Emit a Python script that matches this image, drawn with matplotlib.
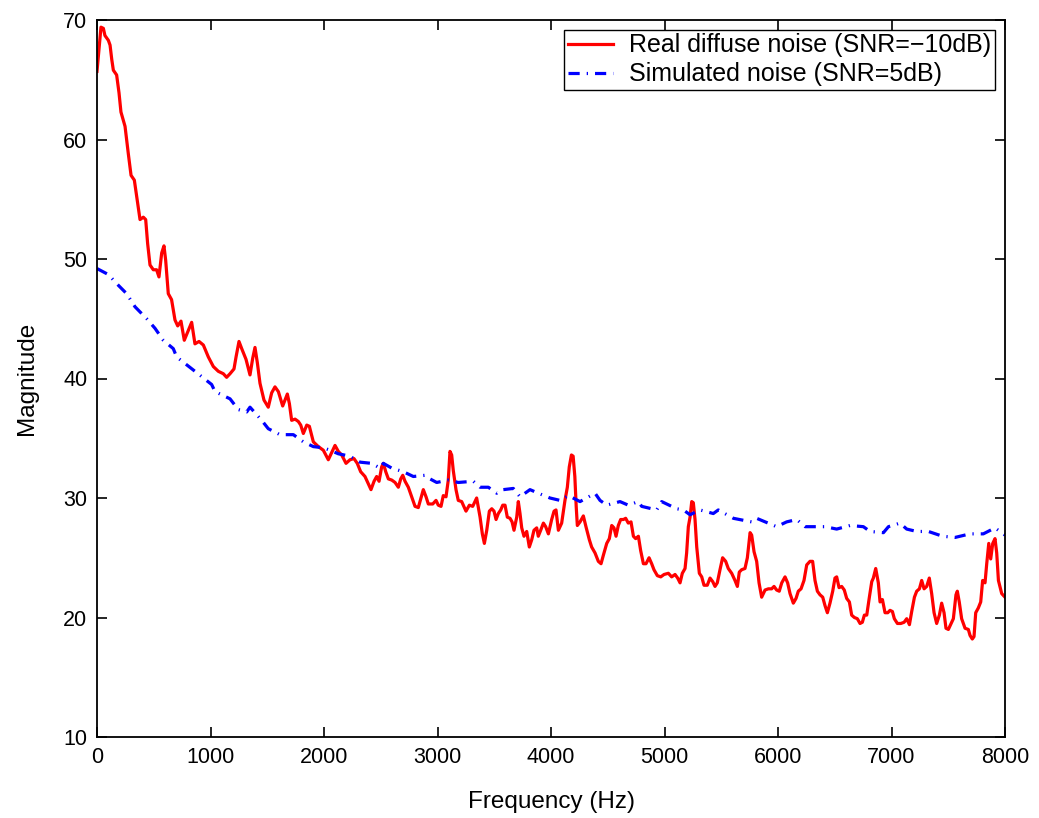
import numpy as np
import matplotlib
matplotlib.use("Agg")
import matplotlib.pyplot as plt

plt.rcParams['font.family'] = ['Liberation Sans', 'DejaVu Sans']

# real diffuse noise spectrum (Hz, dB)
real_freq = [0, 35, 56, 70, 100, 115, 130, 144, 173, 194, 211, 247, 276, 300, 329, 350,
             379, 408, 429, 446, 467, 496, 525, 546, 570, 590, 605, 628, 657, 687, 711,
             740, 769, 799, 834, 863, 899, 937, 981, 1025, 1069, 1113, 1142, 1172, 1207,
             1225, 1251, 1275, 1313, 1348, 1372, 1392, 1413, 1436, 1471, 1509, 1539, 1568,
             1598, 1636, 1677, 1695, 1715, 1745, 1774, 1795, 1818, 1848, 1871, 1906, 1950,
             1994, 2038, 2077, 2097, 2126, 2156, 2194, 2229, 2264, 2293, 2323, 2361, 2390,
             2414, 2441, 2464, 2485, 2508, 2523, 2544, 2567, 2597, 2626, 2655, 2676, 2694,
             2714, 2743, 2773, 2802, 2831, 2852, 2875, 2899, 2919, 2958, 2987, 3007, 3031,
             3051, 3075, 3095, 3110, 3125, 3139, 3163, 3183, 3213, 3251, 3281, 3310, 3345,
             3375, 3395, 3413, 3434, 3457, 3478, 3498, 3516, 3536, 3557, 3575, 3595, 3615,
             3639, 3657, 3674, 3698, 3712, 3727, 3742, 3762, 3786, 3809, 3830, 3850, 3874,
             3888, 3909, 3933, 3953, 3977, 4006, 4027, 4044, 4065, 4094, 4123, 4144, 4161,
             4180, 4195, 4210, 4222, 4232, 4256, 4285, 4308, 4338, 4358, 4388, 4417, 4441,
             4461, 4491, 4514, 4535, 4555, 4573, 4593, 4614, 4638, 4658, 4681, 4705, 4726,
             4746, 4770, 4790, 4814, 4837, 4864, 4887, 4907, 4937, 4967, 4996, 5034, 5063,
             5093, 5116, 5137, 5157, 5181, 5195, 5210, 5225, 5240, 5254, 5269, 5284, 5307,
             5328, 5348, 5377, 5401, 5425, 5445, 5465, 5489, 5512, 5539, 5562, 5592, 5621,
             5642, 5659, 5680, 5709, 5730, 5754, 5768, 5789, 5812, 5833, 5856, 5886, 5915,
             5944, 5965, 5988, 6011, 6033, 6062, 6085, 6106, 6135, 6159, 6179, 6203, 6229,
             6253, 6282, 6305, 6326, 6347, 6370, 6394, 6414, 6435, 6458, 6482, 6502, 6517,
             6538, 6561, 6584, 6605, 6629, 6649, 6673, 6699, 6723, 6743, 6761, 6782, 6805,
             6826, 6840, 6861, 6884, 6899, 6920, 6943, 6967, 6987, 7008, 7025, 7052, 7082,
             7111, 7134, 7158, 7178, 7202, 7222, 7246, 7266, 7287, 7310, 7333, 7354, 7375,
             7398, 7422, 7442, 7463, 7480, 7501, 7521, 7545, 7568, 7580, 7597, 7618, 7648,
             7677, 7692, 7712, 7727, 7742, 7765, 7786, 7803, 7824, 7839, 7857, 7874, 7892,
             7912, 7927, 7942, 7971, 8000]
real_mag = [65.7, 69.4, 69.3, 68.7, 68.3, 67.9, 66.7, 65.8, 65.4, 63.9, 62.3, 61.1, 58.8, 57.0, 56.6, 55.2,
            53.3, 53.5, 53.3, 51.3, 49.5, 49.1, 49.1, 48.5, 50.5, 51.1, 49.9, 47.1, 46.6, 44.9, 44.4,
            44.8, 43.2, 43.9, 44.7, 42.9, 43.1, 42.8, 41.8, 41.0, 40.6, 40.4, 40.1, 40.4, 40.8,
            41.8, 43.1, 42.5, 41.6, 40.3, 41.7, 42.6, 41.3, 39.6, 38.2, 37.6, 38.8, 39.3,
            38.9, 37.7, 38.7, 37.9, 36.5, 36.6, 36.4, 36.1, 35.4, 36.1, 36.0, 34.7, 34.3,
            34.0, 33.2, 34.0, 34.4, 33.9, 33.6, 32.9, 33.2, 33.3, 32.9, 32.2, 31.8, 31.2,
            30.7, 31.4, 31.8, 31.4, 32.6, 32.9, 32.2, 31.6, 31.5, 31.3, 30.9, 31.6, 31.9,
            31.4, 30.9, 30.1, 29.3, 29.2, 29.9, 30.7, 30.1, 29.5, 29.5, 29.8, 29.4, 29.3,
            30.2, 30.1, 31.5, 33.9, 33.6, 32.3, 30.7, 29.8, 29.7, 28.9, 29.4, 29.3, 30.0,
            28.4, 27.0, 26.2, 27.3, 28.9, 29.1, 28.9, 28.2, 28.7, 29.0, 29.4, 29.4, 28.4,
            28.3, 28.0, 27.3, 28.4, 29.7, 28.7, 27.5, 26.8, 27.2, 25.9, 26.5, 27.3, 27.5,
            26.8, 27.3, 27.9, 27.6, 27.0, 28.2, 28.9, 29.0, 27.3, 27.9, 29.8, 30.9, 32.6,
            33.6, 33.5, 31.8, 29.3, 27.7, 28.0, 28.5, 27.6, 26.5, 25.9, 25.4, 24.7, 24.5,
            25.2, 26.2, 26.6, 27.7, 27.5, 26.8, 27.7, 28.2, 28.2, 28.3, 27.9, 28.0, 26.8,
            26.6, 26.8, 25.6, 24.5, 24.5, 25.0, 24.5, 24.0, 23.5, 23.4, 23.6, 23.7, 23.4,
            23.6, 23.3, 22.9, 23.7, 24.1, 25.4, 27.6, 28.4, 29.7, 29.6, 28.2, 25.9, 23.7,
            23.4, 22.7, 22.7, 23.3, 23.0, 22.6, 22.9, 24.0, 25.0, 24.7, 24.1, 23.7, 23.1,
            22.6, 23.8, 24.0, 24.1, 25.0, 27.1, 26.9, 25.5, 24.7, 22.9, 21.7, 22.3, 22.4,
            22.4, 22.6, 22.3, 22.2, 22.9, 23.4, 22.9, 22.0, 21.2, 21.6, 22.2, 22.4, 23.1,
            24.4, 24.7, 24.7, 23.1, 22.2, 21.9, 21.7, 21.0, 20.4, 21.2, 22.2, 23.3, 23.4,
            22.5, 22.6, 22.3, 21.6, 21.3, 20.2, 20.0, 19.9, 19.5, 19.6, 20.2, 20.2, 21.7,
            23.0, 23.3, 24.1, 22.9, 21.3, 21.5, 20.4, 20.4, 20.6, 20.5, 19.9, 19.5, 19.5,
            19.6, 19.9, 19.4, 20.5, 21.7, 22.2, 22.4, 23.1, 22.4, 22.6, 23.3, 22.0, 20.4,
            19.5, 20.2, 21.2, 20.4, 19.1, 19.0, 19.4, 19.9, 21.9, 22.2, 21.3, 19.9, 19.1,
            19.0, 18.5, 18.2, 18.4, 20.4, 20.8, 21.3, 23.1, 22.9, 24.5, 26.2, 24.9, 26.2,
            26.6, 25.4, 23.1, 22.0, 21.7]

# simulated noise spectrum (Hz, dB)
sim_freq = [0, 100, 188, 261, 335, 438, 511, 584, 672, 702, 850, 1010, 1040, 1172, 1245,
            1319, 1348, 1451, 1509, 1612, 1730, 1818, 1906, 1994, 2053, 2126, 2229, 2317,
            2420, 2494, 2523, 2597, 2699, 2787, 2890, 2934, 2993, 3095, 3183, 3316, 3375,
            3448, 3522, 3580, 3668, 3727, 3815, 3888, 3991, 4079, 4153, 4256, 4388, 4432,
            4491, 4608, 4681, 4770, 4799, 4931, 4975, 5107, 5166, 5225, 5313, 5430, 5474,
            5607, 5768, 5812, 5988, 6076, 6165, 6238, 6414, 6517, 6635, 6752, 6811, 6929,
            6973, 7075, 7134, 7222, 7325, 7450, 7560, 7692, 7809, 7912, 7956, 8000]
sim_mag = [49.2, 48.7, 47.8, 47.1, 46.0, 45.0, 44.2, 43.2, 42.5, 41.8, 40.7, 39.5, 38.9, 38.3, 37.4,
           37.2, 37.6, 36.5, 35.8, 35.3, 35.3, 34.7, 34.3, 34.2, 34.0, 33.7, 33.5, 33.0,
           32.9, 32.5, 32.9, 32.5, 32.2, 31.8, 31.9, 31.6, 31.3, 31.5, 31.3, 31.4, 30.9,
           30.9, 30.4, 30.7, 30.8, 30.1, 30.7, 30.4, 30.0, 29.8, 30.2, 29.7, 30.4, 29.8,
           29.4, 29.7, 29.4, 29.7, 29.3, 29.0, 29.7, 29.1, 29.0, 28.6, 29.0, 28.7, 29.0,
           28.3, 28.0, 28.3, 27.6, 28.0, 28.2, 27.6, 27.6, 27.4, 27.7, 27.6, 27.2, 27.1,
           27.6, 27.9, 27.4, 27.2, 27.2, 26.8, 26.7, 27.0, 27.0, 27.5, 27.2, 26.9]

fig = plt.figure(figsize=(10.39, 8.18), dpi=100)
ax = fig.add_axes([97/1039, 81/818, 908/1039, 717/818])

ax.plot(real_freq, real_mag, color="red", linewidth=2.3,
        label="Real diffuse noise (SNR=\u221210dB)")
ax.plot(sim_freq, sim_mag, color="blue", linewidth=2.3,
        linestyle=(0, (3.5, 2.2, 0.4, 2.2)),
        label="Simulated noise (SNR=5dB)")

ax.set_xlim(0, 8000)
ax.set_ylim(10, 70)
ax.set_xticks(np.arange(0, 8001, 1000))
ax.set_yticks(np.arange(10, 71, 10))
ax.tick_params(direction="in", length=7, width=1.2, top=True, right=True,
               labelsize=15.5, pad=7)
for s in ax.spines.values():
    s.set_linewidth(1.3)

ax.set_xlabel("Frequency (Hz)", fontsize=17.5, labelpad=17)
ax.set_ylabel("Magnitude", fontsize=17.5, labelpad=18)

leg = ax.legend(loc="upper right", bbox_to_anchor=(0.9890, 0.9865), borderaxespad=0,
                fontsize=18, fancybox=False, framealpha=1, edgecolor="black",
                handlelength=1.8, borderpad=0.15, labelspacing=0.2, handletextpad=0.65)
leg.get_frame().set_linewidth(1.0)

fig.savefig("out.png", dpi=100)
